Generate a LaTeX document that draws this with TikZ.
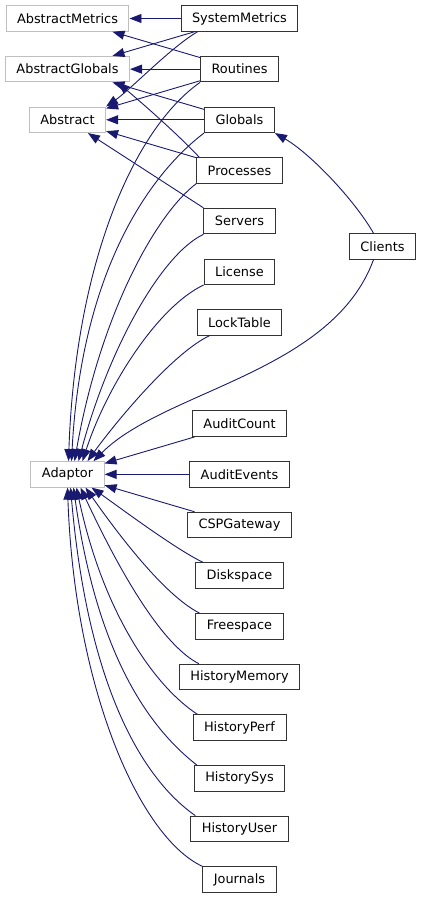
\documentclass[tikz,border=0pt]{standalone}
\usepackage{fontspec}
\setmainfont{DejaVu Sans}
\usetikzlibrary{positioning}
\usetikzlibrary{arrows.meta}
\definecolor{midnight}{RGB}{25,25,112}
\definecolor{basegray}{RGB}{191,191,191}

\begin{document}
\begin{tikzpicture}[
  x=1pt, y=1pt,
  font=\fontsize{12.9}{15}\selectfont,
  cls/.style={draw=black!80, line width=1pt, fill=white, minimum height=25.5pt, inner xsep=11pt, inner ysep=2pt},
  ext/.style={cls, draw=basegray},
  inh/.style={midnight, line width=0.9pt, -{Triangle[length=12pt,width=9pt]}},
  node distance=24.15pt
]
\useasboundingbox (0,0) rectangle (421,-899);

% Middle column: derived classes
\node[cls] (sysm) at (239.5,-18.5) {SystemMetrics};
\node[cls, below=of sysm] (rout) {Routines};
\node[cls, below=of rout] (glob) {Globals};
\node[cls, below=of glob] (proc) {Processes};
\node[cls, below=of proc] (serv) {Servers};
\node[cls, below=of serv] (lic) {License};
\node[cls, below=of lic] (lock) {LockTable};
\node[cls, below=74.8pt of lock] (acnt) {AuditCount};
\node[cls, below=of acnt] (aev) {AuditEvents};
\node[cls, below=of aev] (csp) {CSPGateway};
\node[cls, below=of csp] (disk) {Diskspace};
\node[cls, below=of disk] (free) {Freespace};
\node[cls, below=of free] (hmem) {HistoryMemory};
\node[cls, below=of hmem] (hperf) {HistoryPerf};
\node[cls, below=of hperf] (hsys) {HistorySys};
\node[cls, below=of hsys] (huser) {HistoryUser};
\node[cls, below=of huser] (jour) {Journals};

% Left column: base classes
\node[ext] (absmet) at (67.5,-18.5) {AbstractMetrics};
\node[ext] (absglob) at (absmet |- rout) {AbstractGlobals};
\node[ext] (abs) at (absmet |- glob) {Abstract};
\node[ext] (adap) at (absmet |- aev) {Adaptor};

% Right: second level
\node[cls] (cli) at (382.5,-246.4) {Clients};

% Upper classes
\draw[inh] (sysm) -- (absmet);
\draw[inh] (sysm) -- (absglob);
\draw[inh] ([xshift=17pt]sysm.south west) to[out=210, in=35, out distance=30pt, in distance=30pt] (abs.north east);
\draw[inh] (rout) -- (absmet);
\draw[inh] (rout) -- (absglob);
\draw[inh] (rout) -- (abs);
\draw[inh] (rout.south west) to[out=215, in=88, out distance=80pt, in distance=200pt] ([xshift=1pt]adap.north);
\draw[inh] (glob) -- (absglob);
\draw[inh] (glob) -- (abs);
\draw[inh] (glob.south west) to[out=217, in=87, out distance=60pt, in distance=200pt] ([xshift=4pt]adap.north);
\draw[inh] ([xshift=3pt]proc.north west) to[out=133, in=-40, out distance=30pt, in distance=35pt] ([xshift=50pt]absglob.south);
\draw[inh] (proc) -- (abs);
\draw[inh] (proc.south west) to[out=217, in=80, out distance=50pt, in distance=150pt] ([xshift=7pt]adap.north);
\draw[inh] (serv.north west) -- (abs);
\draw[inh] (serv.south west) to[out=205, in=75, out distance=45pt, in distance=120pt] ([xshift=11pt]adap.north);
\draw[inh] (lic.south west) to[out=205, in=72, out distance=50pt, in distance=80pt] ([xshift=15pt]adap.north);
\draw[inh] ([xshift=13pt]lock.south west) to[out=205, in=54, out distance=40pt, in distance=50pt] ([xshift=20pt]adap.north);

% Clients
\draw[inh] ([xshift=-9pt]cli.north) to[out=120, in=-30, out distance=40pt, in distance=40pt] (glob.south east);
\draw[inh] ([xshift=-9pt]cli.south) to[out=250, in=45, out distance=120pt, in distance=100pt] ([xshift=26pt]adap.north);

% Same level as Adaptor
\draw[inh] (acnt) -- (adap);
\draw[inh] (aev) -- (adap);
\draw[inh] (csp) -- (adap);

% Lower classes
\draw[inh] ([xshift=8pt]disk.north west) to[out=155, in=-35, out distance=30pt, in distance=30pt] ([xshift=24pt]adap.south);
\draw[inh] ([xshift=4pt]free.north west) to[out=153, in=-55, out distance=40pt, in distance=55pt] ([xshift=18pt]adap.south);
\draw[inh] ([xshift=20pt]hmem.north west) to[out=153, in=-65, out distance=45pt, in distance=80pt] ([xshift=13pt]adap.south);
\draw[inh] ([xshift=5pt]hperf.north west) to[out=147, in=-78, out distance=50pt, in distance=130pt] ([xshift=9pt]adap.south);
\draw[inh] ([xshift=3pt]hsys.north west) to[out=142, in=-82, out distance=60pt, in distance=170pt] ([xshift=6pt]adap.south);
\draw[inh] ([xshift=5pt]huser.north west) to[out=145, in=-85, out distance=65pt, in distance=200pt] ([xshift=3pt]adap.south);
\draw[inh] (jour.north west) to[out=155, in=-88, out distance=70pt, in distance=200pt] (adap.south);

\end{tikzpicture}
\end{document}
